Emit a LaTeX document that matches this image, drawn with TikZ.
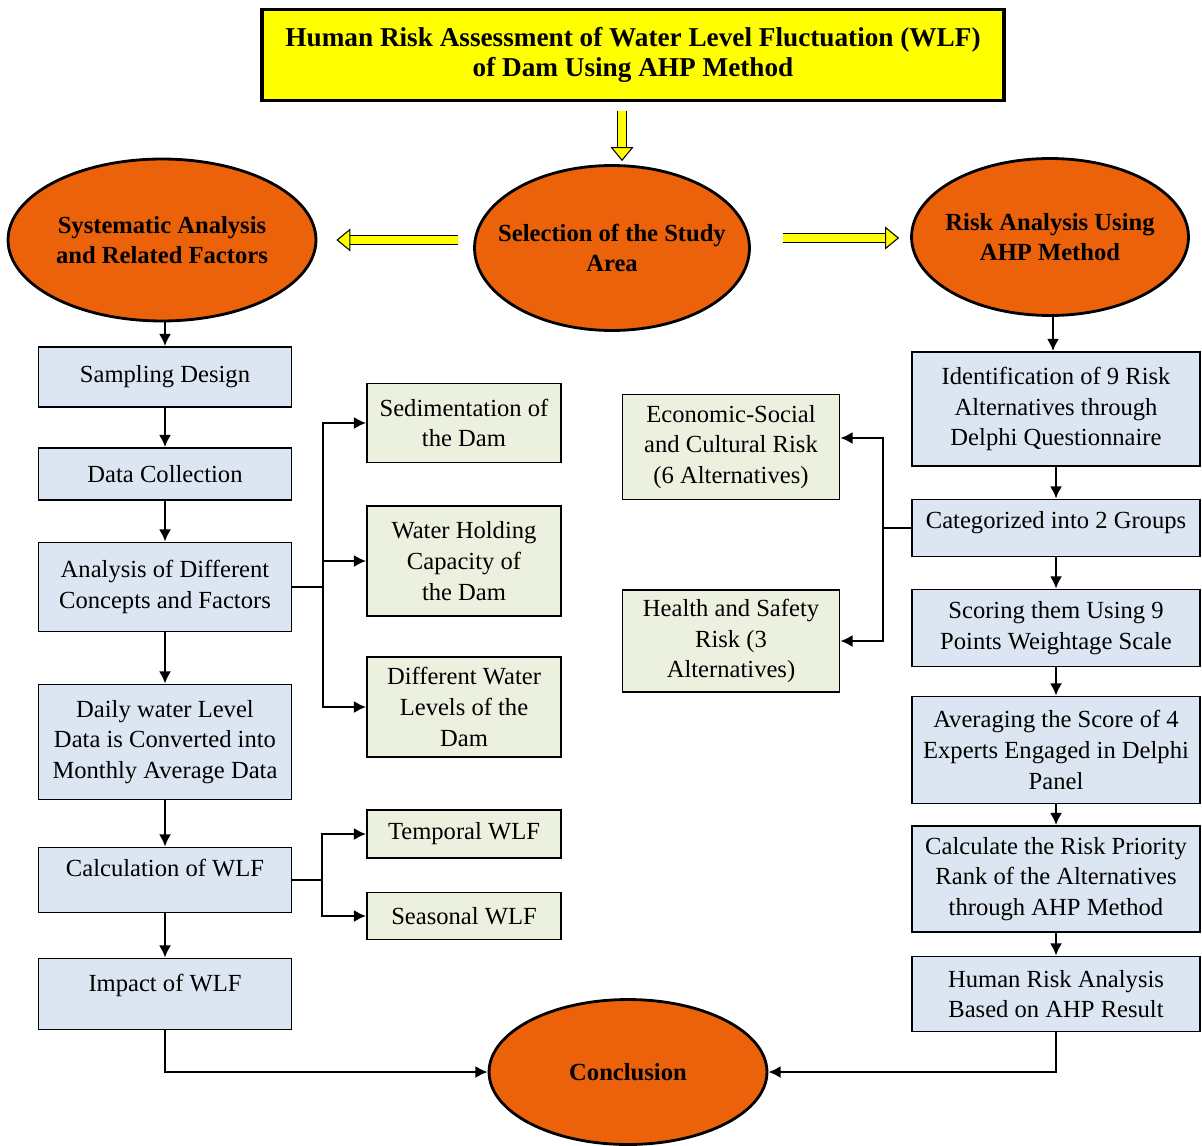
\documentclass[tikz,border=0pt]{standalone}
\usepackage{fontspec}
\setmainfont{Liberation Serif}
\usetikzlibrary{shapes.geometric, arrows.meta}

\definecolor{titleyellow}{RGB}{255,255,0}
\definecolor{ovalorange}{RGB}{236,98,10}
\definecolor{stepblue}{RGB}{220,230,242}
\definecolor{factgreen}{RGB}{235,241,222}

\begin{document}
\begin{tikzpicture}[x = 0.02cm, y = -0.02cm,
        font = \fontsize{14}{17.5}\selectfont,
        titlebox/.style = {draw, fill = titleyellow, line width = 2pt, align = center,
            font = \fontsize{15.5}{17}\selectfont\bfseries,
            minimum width = 14.84cm, minimum height = 1.82cm},
        oval/.style = {draw, ellipse, fill = ovalorange, line width = 1.6pt, align = center,
            inner xsep = -10pt, inner ysep = 0pt,
            font = \fontsize{14}{17.5}\selectfont\bfseries},
        stepbox/.style = {draw, fill = stepblue, line width = 1pt, align = center},
        factbox/.style = {draw, fill = factgreen, line width = 1pt, align = center},
        arr/.style = {line width = 1.4pt, -{Latex[length = 7pt, width = 7pt]}},
        hollow/.style = {draw = black, double = titleyellow, double distance = 4pt,
            line width = 0.6pt, -{Triangle[fill = titleyellow, length = 8pt, width = 13pt]}}]

    \useasboundingbox (0, 0) rectangle (1202, 1145);

    \draw
        (633, 55) node (title) [titlebox]
            {Human Risk Assessment of Water Level Fluctuation (WLF)\\of Dam Using AHP Method}

        (162, 240)  node (sys)   [oval, minimum width = 6.16cm, minimum height = 3.24cm]
            {Systematic Analysis\\and Related Factors}
        (612, 248)  node (sel)   [oval, minimum width = 5.5cm, minimum height = 3.3cm]
            {Selection of the Study\\Area}
        (1050, 237) node (risk)  [oval, minimum width = 5.54cm, minimum height = 3.14cm]
            {Risk Analysis Using\\AHP Method}
        (628, 1072) node (concl) [oval, minimum width = 5.56cm, minimum height = 2.9cm]
            {Conclusion}

        (165, 377)  node (samp)  [stepbox, minimum width = 5.06cm, minimum height = 1.2cm]  {Sampling Design}
        (165, 474)  node (data)  [stepbox, minimum width = 5.06cm, minimum height = 1.04cm] {Data Collection}
        (165, 587)  node (ana)   [stepbox, minimum width = 5.06cm, minimum height = 1.78cm]
            {Analysis of Different\\Concepts and Factors}
        (165, 742)  node (daily) [stepbox, minimum width = 5.06cm, minimum height = 2.3cm]
            {Daily water Level\\Data is Converted into\\Monthly Average Data}
        (165, 880)  node (calc)  [stepbox, minimum width = 5.06cm, minimum height = 1.3cm, text depth = 0.48cm]
            {Calculation of WLF}
        (165, 994)  node (imp)   [stepbox, minimum width = 5.06cm, minimum height = 1.42cm, text depth = 0.45cm]
            {Impact of WLF}

        (464, 423)  node (sed)   [factbox, minimum width = 3.88cm, minimum height = 1.58cm] {Sedimentation of\\the Dam}
        (464, 561)  node (hold)  [factbox, minimum width = 3.88cm, minimum height = 2.2cm]  {Water Holding\\Capacity of\\the Dam}
        (464, 707)  node (lev)   [factbox, minimum width = 3.88cm, minimum height = 2cm]    {Different Water\\Levels of the\\Dam}
        (464, 834)  node (temp)  [factbox, minimum width = 3.88cm, minimum height = 0.96cm] {Temporal WLF}
        (464, 916)  node (seas)  [factbox, minimum width = 3.88cm, minimum height = 0.94cm] {Seasonal WLF}

        (1056, 409) node (ident) [stepbox, minimum width = 5.76cm, minimum height = 2.28cm]
            {Identification of 9 Risk\\Alternatives through\\Delphi Questionnaire}
        (1056, 528) node (cat)   [stepbox, minimum width = 5.76cm, minimum height = 1.14cm, text depth = 0.32cm]
            {Categorized into 2 Groups}
        (1056, 628) node (score) [stepbox, minimum width = 5.76cm, minimum height = 1.54cm]
            {Scoring them Using 9\\Points Weightage Scale}
        (1056, 750) node (avg)   [stepbox, minimum width = 5.76cm, minimum height = 2.14cm]
            {Averaging the Score of 4\\Experts Engaged in Delphi\\Panel}
        (1056, 879) node (calcr) [stepbox, minimum width = 5.76cm, minimum height = 2.12cm]
            {Calculate the Risk Priority\\Rank of the Alternatives\\through AHP Method}
        (1056, 994) node (human) [stepbox, minimum width = 5.76cm, minimum height = 1.5cm]
            {Human Risk Analysis\\Based on AHP Result}

        (731, 447)  node (eco)    [factbox, minimum width = 4.34cm, minimum height = 2.1cm]
            {Economic-Social\\and Cultural Risk\\(6 Alternatives)}
        (731, 641)  node (health) [factbox, minimum width = 4.34cm, minimum height = 2.04cm]
            {Health and Safety\\Risk (3\\Alternatives)}

        (sys.south -| samp)  edge[arr] (samp)
        (samp)  edge[arr] (data)
        (data)  edge[arr] (ana)
        (ana)   edge[arr] (daily)
        (daily) edge[arr] (calc)
        (calc)  edge[arr] (imp)

        (risk.south -| 1053, 0) edge[arr] (ident.north -| 1053, 0)
        (ident) edge[arr] (cat)
        (cat)   edge[arr] (score)
        (score) edge[arr] (avg)
        (avg)   edge[arr] (calcr)
        (calcr) edge[arr] (human)
    ;

    % yellow arrows round the study area
    \coordinate (dn) at (622, 0);
    \draw[hollow, shorten <= 0.18cm, shorten >= 0.06cm] (title.south -| dn) -- (sel.north -| dn);
    \draw[hollow, shorten <= 0.3cm, shorten >= 0.38cm]
        ([yshift = 0.16cm]sel.west) -- ([yshift = 0.16cm]sel.west -| sys.east);
    \draw[hollow, shorten <= 0.64cm, shorten >= 0.22cm]
        ([yshift = 0.2cm]sel.east) -- ([yshift = 0.2cm]sel.east -| risk.west);

    % branches
    \coordinate (jl) at (323, 0);
    \coordinate (jc) at (322, 0);
    \coordinate (jr) at (883, 0);

    \draw[line width = 1.4pt] (ana.east) -- (ana.east -| jl);
    \draw[arr] (ana.east -| jl) |- (sed.west);
    \draw[arr] (ana.east -| jl) |- (hold.west);
    \draw[arr] (ana.east -| jl) |- (lev.west);

    \draw[line width = 1.4pt] (calc.east) -- (calc.east -| jc);
    \draw[arr] (calc.east -| jc) |- (temp.west);
    \draw[arr] (calc.east -| jc) |- (seas.west);

    \draw[line width = 1.4pt] (cat.west) -- (cat.west -| jr);
    \draw[arr] (cat.west -| jr) |- ([yshift = 0.18cm]eco.east);
    \draw[arr] (cat.west -| jr) |- (health.east);

    \draw[arr] (imp.south) |- (concl.west);
    \draw[arr] (human.south) |- (concl.east);

\end{tikzpicture}
\end{document}
